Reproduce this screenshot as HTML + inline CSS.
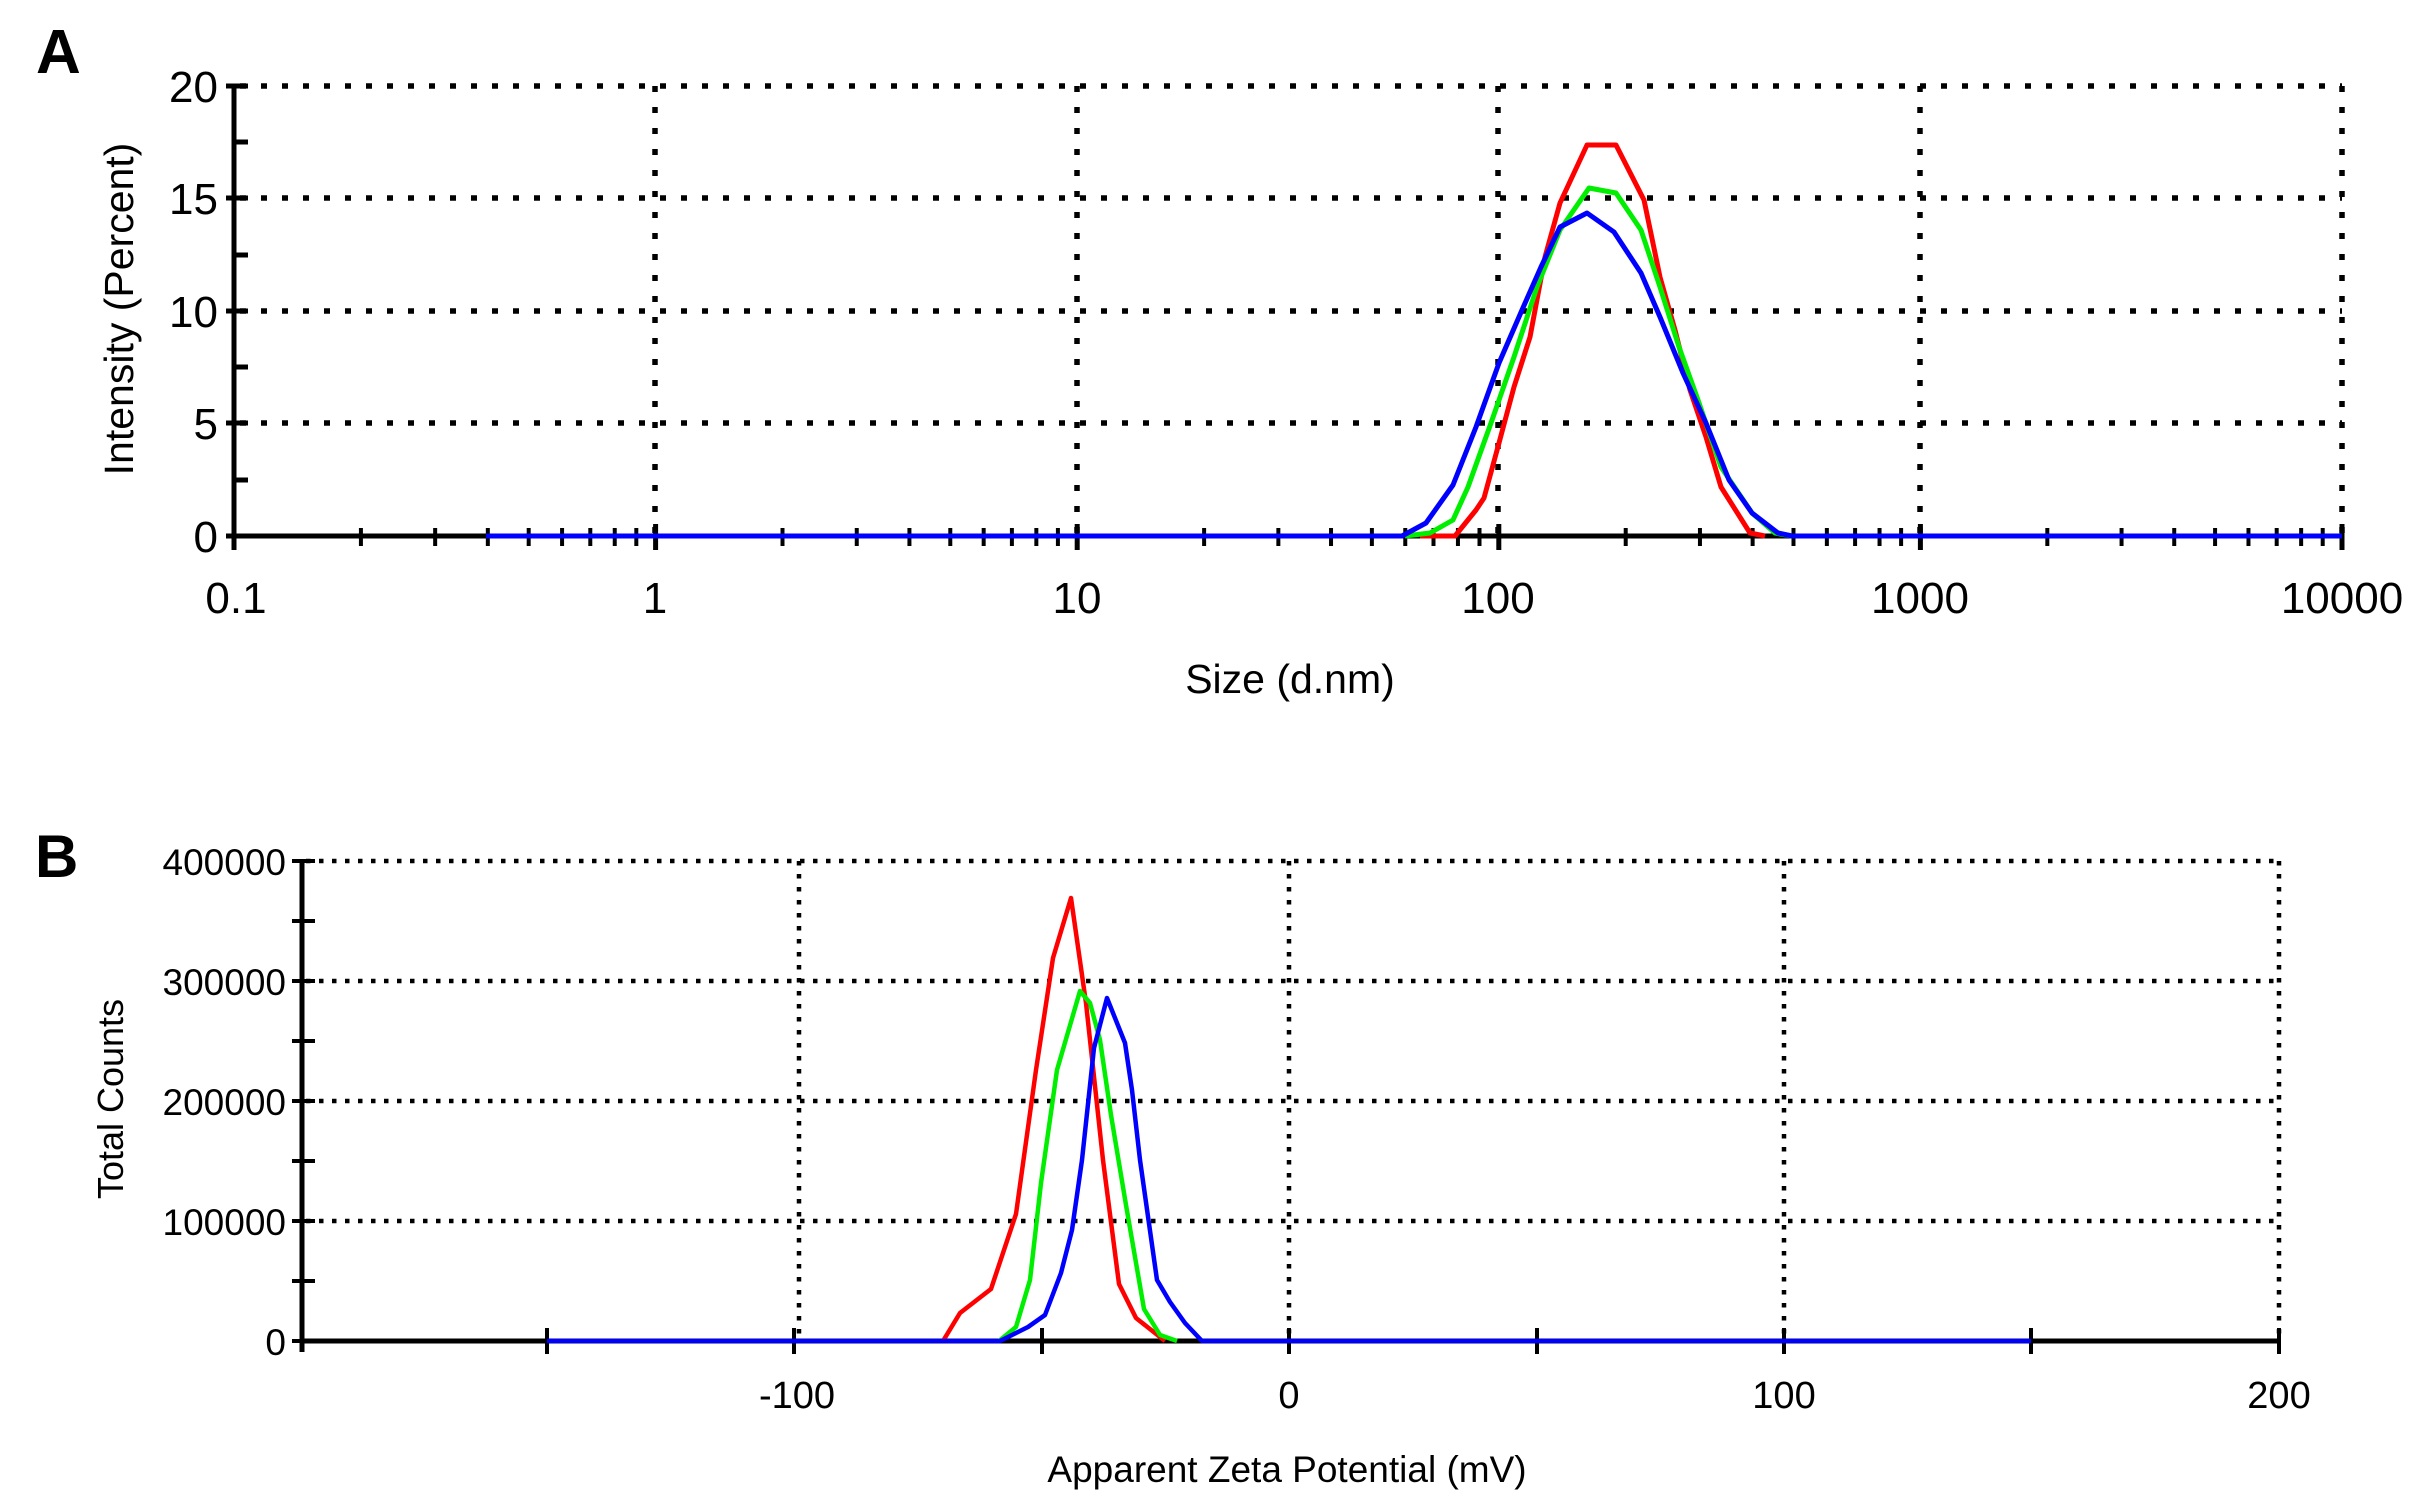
<!DOCTYPE html>
<html><head><meta charset="utf-8"><style>
html,body{margin:0;padding:0;background:#fff;}
svg{display:block;}
text{font-family:"Liberation Sans",Arial,sans-serif;fill:#000;}
</style></head><body>
<svg width="2418" height="1506" viewBox="0 0 2418 1506" xmlns="http://www.w3.org/2000/svg">
<!-- ================= Panel A ================= -->
<text x="36" y="73" font-size="62" font-weight="bold">A</text>
<g stroke="#000" stroke-width="5.5" stroke-dasharray="6 15" fill="none">
  <line x1="240" y1="86" x2="2342" y2="86"/>
  <line x1="240" y1="198" x2="2342" y2="198"/>
  <line x1="240" y1="311" x2="2342" y2="311"/>
  <line x1="240" y1="423" x2="2342" y2="423"/>
  <line x1="655" y1="86" x2="655" y2="535"/>
  <line x1="1077" y1="86" x2="1077" y2="535"/>
  <line x1="1498" y1="86" x2="1498" y2="535"/>
  <line x1="1920" y1="86" x2="1920" y2="535"/>
  <line x1="2342" y1="86" x2="2342" y2="535"/>
</g>
<g stroke="#000" stroke-width="5" fill="none">
  <line x1="234" y1="84" x2="234" y2="545"/>
  <line x1="232" y1="536" x2="2342" y2="536"/>
  <line x1="226" y1="86" x2="248" y2="86"/>
  <line x1="226" y1="198" x2="248" y2="198"/>
  <line x1="226" y1="311" x2="248" y2="311"/>
  <line x1="226" y1="423" x2="248" y2="423"/>
  <line x1="226" y1="536" x2="248" y2="536"/>
  <line x1="234" y1="142" x2="248" y2="142"/>
  <line x1="234" y1="255" x2="248" y2="255"/>
  <line x1="234" y1="367" x2="248" y2="367"/>
  <line x1="234" y1="480" x2="248" y2="480"/>
</g>
<g id="xticks" stroke="#000" stroke-width="4"></g>
<g font-size="44" text-anchor="end">
  <text x="218" y="102">20</text>
  <text x="218" y="214">15</text>
  <text x="218" y="327">10</text>
  <text x="218" y="439">5</text>
  <text x="218" y="552">0</text>
</g>
<g font-size="44" text-anchor="middle">
  <text x="236" y="613">0.1</text>
  <text x="655" y="613">1</text>
  <text x="1077" y="613">10</text>
  <text x="1498" y="613">100</text>
  <text x="1920" y="613">1000</text>
  <text x="2342" y="613">10000</text>
</g>
<text x="1290" y="693" font-size="41" text-anchor="middle">Size (d.nm)</text>
<text transform="translate(133,309) rotate(-90)" font-size="41" text-anchor="middle">Intensity (Percent)</text>

<g fill="none" stroke-width="5" stroke-linejoin="round">
  <polyline stroke="#ff0000" points="1420,536 1455,536 1476,510 1484,498 1499,443 1514,387 1530,337 1545,257 1560,203 1587,145 1616,145 1644,200 1660,277 1675,330 1690,390 1706,437 1721,487 1750,533 1765,536"/>
  <polyline stroke="#00ee00" points="1405,536 1430,533 1453,520 1468,487 1491,423 1514,357 1537,287 1560,230 1589,188 1616,193 1641,230 1660,287 1679,347 1698,400 1721,467 1752,513 1775,533 1792,536"/>
  <polyline stroke="#0000ff" points="486,536 1402,536 1426,523 1453,485 1476,427 1499,363 1522,310 1541,267 1560,227 1587,213 1614,232 1641,273 1660,317 1683,373 1706,423 1729,480 1752,513 1778,533 1792,536 2342,536"/>
</g>

<!-- ================= Panel B ================= -->
<text x="35" y="877" font-size="60" font-weight="bold">B</text>
<g stroke="#000" stroke-width="4.5" stroke-dasharray="4.5 8.5" fill="none">
  <line x1="306" y1="861" x2="2280" y2="861"/>
  <line x1="306" y1="981" x2="2280" y2="981"/>
  <line x1="306" y1="1101" x2="2280" y2="1101"/>
  <line x1="306" y1="1221" x2="2280" y2="1221"/>
  <line x1="799" y1="861" x2="799" y2="1341"/>
  <line x1="1289" y1="861" x2="1289" y2="1341"/>
  <line x1="1784" y1="861" x2="1784" y2="1341"/>
  <line x1="2279" y1="861" x2="2279" y2="1341"/>
</g>
<g stroke="#000" stroke-width="5" fill="none">
  <line x1="302" y1="859" x2="302" y2="1352"/>
  <line x1="300" y1="1341" x2="2280" y2="1341"/>
</g>
<g stroke="#000" stroke-width="4" fill="none">
  <line x1="292" y1="861" x2="315" y2="861"/>
  <line x1="292" y1="921" x2="315" y2="921"/>
  <line x1="292" y1="981" x2="315" y2="981"/>
  <line x1="292" y1="1041" x2="315" y2="1041"/>
  <line x1="292" y1="1101" x2="315" y2="1101"/>
  <line x1="292" y1="1161" x2="315" y2="1161"/>
  <line x1="292" y1="1221" x2="315" y2="1221"/>
  <line x1="292" y1="1281" x2="315" y2="1281"/>
  <line x1="292" y1="1341" x2="315" y2="1341"/>
  <line x1="547" y1="1328" x2="547" y2="1354"/>
  <line x1="794" y1="1328" x2="794" y2="1354"/>
  <line x1="1042" y1="1328" x2="1042" y2="1354"/>
  <line x1="1289" y1="1328" x2="1289" y2="1354"/>
  <line x1="1537" y1="1328" x2="1537" y2="1354"/>
  <line x1="1784" y1="1328" x2="1784" y2="1354"/>
  <line x1="2031" y1="1328" x2="2031" y2="1354"/>
  <line x1="2279" y1="1328" x2="2279" y2="1354"/>
</g>
<g font-size="37" text-anchor="end">
  <text x="286" y="875">400000</text>
  <text x="286" y="995">300000</text>
  <text x="286" y="1115">200000</text>
  <text x="286" y="1235">100000</text>
  <text x="286" y="1355">0</text>
</g>
<g font-size="38" text-anchor="middle">
  <text x="797" y="1408">-100</text>
  <text x="1289" y="1408">0</text>
  <text x="1784" y="1408">100</text>
  <text x="2279" y="1408">200</text>
</g>
<text x="1287" y="1482" font-size="37" text-anchor="middle">Apparent Zeta Potential (mV)</text>
<text transform="translate(123,1099) rotate(-90)" font-size="36" text-anchor="middle">Total Counts</text>

<g fill="none" stroke-width="4.5" stroke-linejoin="round">
  <polyline stroke="#ff0000" points="943,1341 960,1313 991,1289 1016,1214 1036,1070 1053,958 1071,898 1086,1003 1103,1160 1119,1284 1136,1318 1165,1341"/>
  <polyline stroke="#00ee00" points="999,1341 1016,1327 1030,1280 1041,1183 1057,1070 1080,991 1090,1003 1100,1040 1111,1115 1126,1205 1144,1309 1160,1335 1177,1341"/>
  <polyline stroke="#0000ff" points="547,1341 1000,1341 1028,1327 1045,1315 1061,1273 1072,1230 1082,1160 1094,1048 1107,998 1125,1043 1132,1090 1140,1160 1157,1280 1170,1302 1185,1323 1202,1341 2031,1341"/>
</g>
</svg>
<script>
(function(){
  var g=document.getElementById('xticks');
  var x0=234,dec=421.6,ns='http://www.w3.org/2000/svg';
  for(var d=0;d<5;d++){
    for(var m=2;m<=9;m++){
      var x=x0+dec*(d+Math.log10(m));
      var l=document.createElementNS(ns,'line');
      l.setAttribute('x1',x);l.setAttribute('x2',x);
      l.setAttribute('y1',528);l.setAttribute('y2',546);
      g.appendChild(l);
    }
  }
  for(var d=0;d<=5;d++){
    var x=x0+dec*d;
    var l=document.createElementNS(ns,'line');
    l.setAttribute('x1',x);l.setAttribute('x2',x);
    l.setAttribute('y1',524);l.setAttribute('y2',550);
    l.setAttribute('stroke-width','5');
    g.appendChild(l);
  }
})();
</script>
</body></html>
